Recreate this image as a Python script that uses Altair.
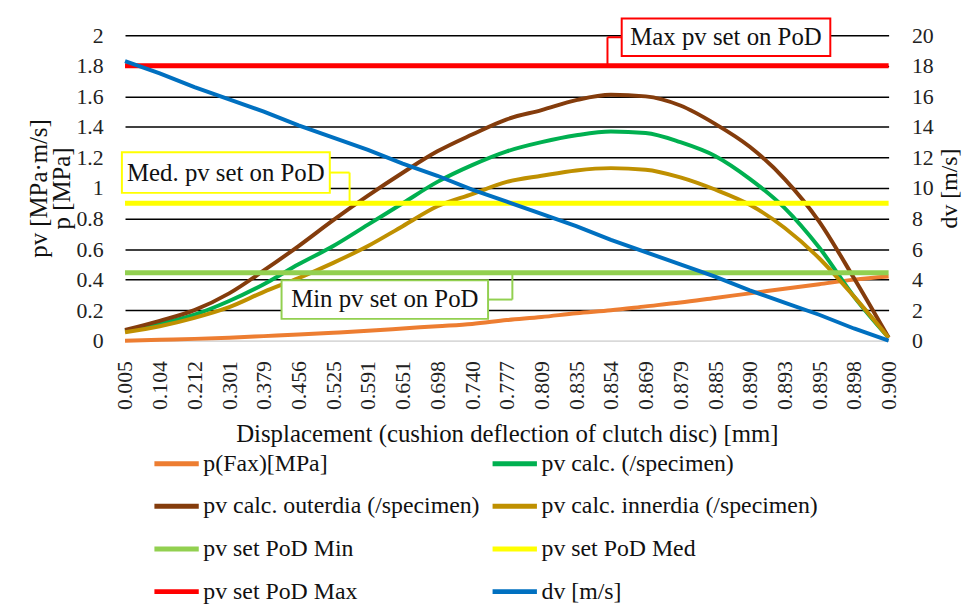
import altair as alt
import pandas as pd

FONT = "Liberation Serif, Times New Roman, Times, serif"

# ---------------- data ----------------
disp_labels = ["0.005", "0.104", "0.212", "0.301", "0.379", "0.456", "0.525", "0.591",
               "0.651", "0.698", "0.740", "0.777", "0.809", "0.835", "0.854", "0.869",
               "0.879", "0.885", "0.890", "0.893", "0.895", "0.898", "0.900"]

p_fax = [0.0, 0.006, 0.012, 0.02, 0.03, 0.04, 0.052, 0.065, 0.08, 0.095, 0.11, 0.135,
         0.155, 0.18, 0.20, 0.225, 0.25, 0.28, 0.31, 0.34, 0.37, 0.40, 0.42]
pv_calc = [0.065, 0.11, 0.17, 0.26, 0.37, 0.50, 0.62, 0.76, 0.90, 1.04, 1.15, 1.24,
           1.30, 1.345, 1.37, 1.36, 1.30, 1.21, 1.06, 0.87, 0.61, 0.29, 0.02]
pv_outer = [0.07, 0.13, 0.20, 0.31, 0.46, 0.62, 0.79, 0.95, 1.10, 1.24, 1.35, 1.45,
            1.51, 1.575, 1.61, 1.60, 1.54, 1.42, 1.27, 1.06, 0.78, 0.41, 0.02]
pv_inner = [0.055, 0.095, 0.15, 0.22, 0.32, 0.41, 0.51, 0.62, 0.75, 0.88, 0.96, 1.04,
            1.08, 1.115, 1.13, 1.12, 1.07, 0.99, 0.89, 0.74, 0.54, 0.29, 0.02]
dv = [18.3, 17.5, 16.6, 15.8, 15.0, 14.1, 13.3, 12.5, 11.6, 10.8, 9.9, 9.1,
      8.3, 7.5, 6.6, 5.8, 5.0, 4.2, 3.3, 2.5, 1.7, 0.8, 0.0]

set_names = ["pv set PoD Min", "pv set PoD Med", "pv set PoD Max"]
set_values = [0.445, 0.9, 1.8]

curve_names = ["p(Fax)[MPa]", "pv calc. (/specimen)",
               "pv calc. outerdia (/specimen)", "pv calc. innerdia (/specimen)"]
dv_name = "dv [m/s]"

# legend order (the legend grid is filled column by column: 4 rows x 2 columns)
legend_names = ["p(Fax)[MPa]", "pv calc. outerdia (/specimen)", "pv set PoD Min",
                "pv set PoD Max", "pv calc. (/specimen)", "pv calc. innerdia (/specimen)",
                "pv set PoD Med", "dv [m/s]"]
legend_colors = ["#ED7D31", "#843C0C", "#92D050", "#FF0000",
                 "#00B050", "#BF9000", "#FFFF00", "#0070C0"]

# callout labels (box extents in data units: x = category index, y = left axis value)
ann_text = ["Max pv set on PoD", "Med. pv set on PoD", "Min pv set on PoD"]
ann_color = ["#FF0000", "#FFFF00", "#92D050"]
ann_x1 = [14.31, -0.09, 4.51]
ann_x2 = [20.32, 5.90, 10.46]
ann_y1 = [1.864, 0.968, 0.143]
ann_y2 = [2.11, 1.234, 0.396]
ann_side = ["left", "right", "right"]
ann_elbow = [13.90, 6.47, 11.16]
ann_target = [1.8, 0.9, 0.445]

# ---------------- tables ----------------
curve_series = [p_fax, pv_calc, pv_outer, pv_inner]
rows = []
for name, vals in zip(curve_names, curve_series):
    for i, v in enumerate(vals):
        rows.append({"idx": i, "series": name, "value": v})
curves = pd.DataFrame(rows)

set_df = pd.DataFrame({"series": set_names, "value": set_values})
dv_df = pd.DataFrame({"idx": list(range(len(dv))), "dv": dv,
                      "series": [dv_name] * len(dv)})

box_df = pd.DataFrame({"x1": ann_x1, "x2": ann_x2, "y1": ann_y1, "y2": ann_y2,
                       "c": ann_color, "t": ann_text})
box_df["tx"] = (box_df["x1"] + box_df["x2"]) / 2
box_df["ty"] = (box_df["y1"] + box_df["y2"]) / 2

seg = []
for k in range(3):
    mid = (ann_y1[k] + ann_y2[k]) / 2
    side_x = ann_x1[k] if ann_side[k] == "left" else ann_x2[k]
    seg.append({"xa": side_x, "xb": ann_elbow[k], "ya": mid, "yb": mid, "c": ann_color[k]})
    seg.append({"xa": ann_elbow[k], "xb": ann_elbow[k], "ya": mid, "yb": ann_target[k],
                "c": ann_color[k]})
seg_df = pd.DataFrame(seg)

# ---------------- scales / axes ----------------
label_expr = "[" + ",".join("'" + s + "'" for s in disp_labels) + "][datum.value]"
x_scale = alt.Scale(domain=[0, len(disp_labels) - 1], nice=False, zero=False)
x_axis = alt.Axis(values=list(range(len(disp_labels))), labelExpr=label_expr,
                  labelAngle=270, labelFont=FONT, labelFontSize=22, labelColor="#222222",
                  labelPadding=20, labelOverlap=False,
                  title="Displacement (cushion deflection of clutch disc) [mm]",
                  titleFont=FONT, titleFontSize=25, titleFontWeight="normal",
                  titleColor="#111111", titlePadding=12,
                  domainColor="#d9d9d9", domainWidth=1.5, ticks=False, grid=False)

y_scale = alt.Scale(domain=[0, 2], nice=False)
y_axis = alt.Axis(values=[0, 0.2, 0.4, 0.6, 0.8, 1, 1.2, 1.4, 1.6, 1.8, 2], format="~g",
                  title=["pv [MPa·m/s]", "p [MPa]"], titleFont=FONT, titleFontSize=25,
                  titleFontWeight="normal", titleColor="#111111", titleLineHeight=24,
                  titlePadding=1, labelFont=FONT, labelFontSize=22, labelColor="#222222",
                  labelPadding=22, domain=False, ticks=False, grid=True,
                  gridColor={"condition": {"test": "datum.value === 0", "value": "#d9d9d9"},
                             "value": "#000000"},
                  gridWidth=1.6)

y2_scale = alt.Scale(domain=[0, 20], nice=False)
y2_axis = alt.Axis(orient="right", values=list(range(0, 21, 2)), title="dv [m/s]",
                   titleAngle=270, titleBaseline="top",
                   titleFont=FONT, titleFontSize=24, titleFontWeight="normal",
                   titleColor="#111111", titlePadding=4, labelFont=FONT, labelFontSize=22,
                   labelColor="#222222", labelPadding=23, domain=False, ticks=False,
                   grid=False)

legend = alt.Legend(title=None, orient="none", legendX=27, legendY=407, columns=2,
                    symbolType="stroke", symbolSize=2000, symbolStrokeWidth=5,
                    labelFont=FONT, labelFontSize=24, labelColor="#111111", labelLimit=0,
                    labelOffset=2, rowPadding=6, columnPadding=2)
color_enc = alt.Color("series:N", scale=alt.Scale(domain=legend_names, range=legend_colors),
                      legend=legend)


def X(f):
    return alt.X(f"{f}:Q", scale=x_scale, axis=x_axis)


def Y(f):
    return alt.Y(f"{f}:Q", scale=y_scale, axis=y_axis)


# ---------------- layers ----------------
line_layers = []
for name in curve_names:
    line_layers.append(
        alt.Chart(curves).transform_filter(alt.datum.series == name)
        .mark_line(strokeWidth=4, interpolate="monotone")
        .encode(x=X("idx"), y=Y("value"), color=color_enc)
    )

set_rules = alt.Chart(set_df).mark_rule(strokeWidth=5).encode(y=Y("value"), color=color_enc)

connectors = alt.Chart(seg_df).mark_rule(strokeWidth=2).encode(
    x=X("xa"), x2="xb", y=Y("ya"), y2="yb", stroke=alt.Stroke("c:N", scale=None))

boxes = alt.Chart(box_df).mark_rect(fill="white", strokeWidth=2).encode(
    x=X("x1"), x2="x2", y=Y("y1"), y2="y2", stroke=alt.Stroke("c:N", scale=None))

texts = alt.Chart(box_df).mark_text(font=FONT, fontSize=25, color="#111111",
                                    align="center", baseline="middle").encode(
    x=X("tx"), y=Y("ty"), text="t:N")

left = alt.layer(*line_layers, set_rules, connectors, boxes, texts)

right = alt.Chart(dv_df).mark_line(strokeWidth=4).encode(
    x=X("idx"), y=alt.Y("dv:Q", scale=y2_scale, axis=y2_axis), color=color_enc)

chart = (
    alt.layer(left, right)
    .resolve_scale(y="independent")
    .properties(width=770, height=308,
                padding={"left": 118, "top": 25, "right": 74, "bottom": 264},
                autosize=alt.AutoSizeParams(type="none"),
                background="white")
    .configure_view(stroke=None)
)

chart.save("out.html", embed_options={"renderer": "svg", "actions": False})
